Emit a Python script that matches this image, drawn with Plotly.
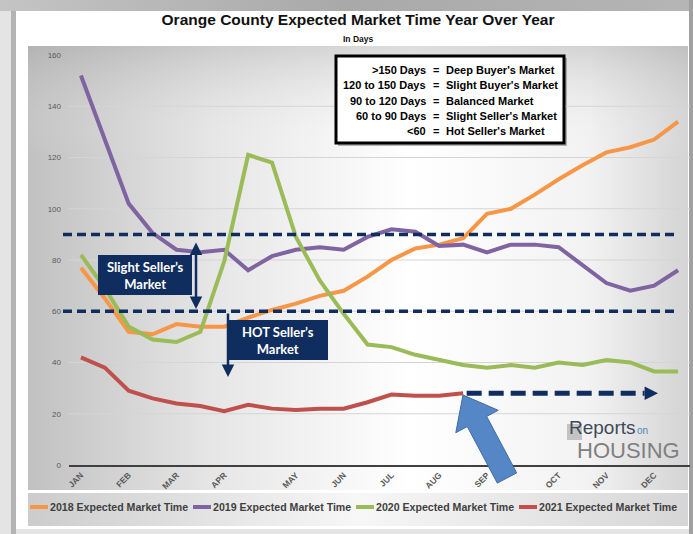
import base64
import plotly.graph_objects as go

# ---------------- data ----------------
months = ["JAN", "FEB", "MAR", "APR", "MAY", "JUN", "JUL", "AUG", "SEP", "OCT", "NOV", "DEC"]
month_pos = [0, 2, 4, 6, 9, 11, 13, 15, 17, 20, 22, 24]
periods = list(range(26))

y2018 = [77, 65, 52, 51, 55, 54, 54, 57.5, 60.5, 63, 66, 68, 73.5, 80, 84.5, 86, 88.5,
         98, 100, 105.5, 111.5, 117, 122, 124, 127, 134]
y2019 = [152, 127, 102, 90.5, 84, 83, 84, 76, 81.5, 84, 85, 84, 89, 92, 91, 85.5, 86,
         83, 86, 86, 85, 78, 71, 68, 70, 76]
y2020 = [82, 69, 54, 49, 48, 52, 79.5, 121, 118, 89, 72, 59, 47, 46, 43, 41, 39,
         38, 39, 38, 40, 39, 41, 40, 36.5, 36.5]
y2021 = [42, 38, 29, 26, 24, 23, 21, 23.5, 22, 21.5, 22, 22, 24.5, 27.5, 27, 27, 28]

series_names = ["2018 Expected Market Time", "2019 Expected Market Time",
                "2020 Expected Market Time", "2021 Expected Market Time"]
series_values = [y2018, y2019, y2020, y2021]
series_colors = ["#F79646", "#8064A2", "#9BBB59", "#C0504D"]

thresholds = [90, 60]
y_ticks = [0, 20, 40, 60, 80, 100, 120, 140, 160]

legend_rows_left = [">150 Days", "120 to 150 Days", "90 to 120 Days", "60 to 90 Days", "<60"]
legend_rows_right = ["Deep Buyer's Market", "Slight Buyer's Market", "Balanced Market",
                     "Slight Seller's Market", "Hot Seller's Market"]

# ---------------- geometry helpers ----------------
W, H = 693, 534
ML, MR, MT, MB = 69, 3, 55, 69
PW, PH = W - ML - MR, H - MT - MB


def PX(x):
    return (x - ML) / PW


def PY(y):
    return (H - MB - y) / PH


NAVY = "#0F2D5E"
ARIAL = "Liberation Sans, Arial, sans-serif"

# ---------------- background (svg image) ----------------
svg = f"""<svg xmlns="http://www.w3.org/2000/svg" width="{W}" height="{H}" viewBox="0 0 {W} {H}">
<defs>
<linearGradient id="pg" x1="0" y1="0" x2="1" y2="0">
<stop offset="0" stop-color="#c1c1c1"/>
<stop offset="0.28" stop-color="#e6e6e6"/>
<stop offset="0.58" stop-color="#ffffff"/>
<stop offset="0.85" stop-color="#f2f2f2"/>
<stop offset="1" stop-color="#d4d4d4"/>
</linearGradient>
<linearGradient id="pv" x1="0" y1="0" x2="0" y2="1">
<stop offset="0" stop-color="#9a9a9a" stop-opacity="0.35"/>
<stop offset="0.25" stop-color="#ffffff" stop-opacity="0"/>
<stop offset="1" stop-color="#ffffff" stop-opacity="0"/>
</linearGradient>
<linearGradient id="lg" x1="0" y1="0" x2="1" y2="0">
<stop offset="0" stop-color="#cccccc"/>
<stop offset="0.5" stop-color="#f7f7f7"/>
<stop offset="1" stop-color="#d6d6d6"/>
</linearGradient>
<linearGradient id="tb" x1="0" y1="0" x2="1" y2="0">
<stop offset="0" stop-color="#c4c4c4"/>
<stop offset="0.5" stop-color="#a9a9a9"/>
<stop offset="1" stop-color="#b5b5b5"/>
</linearGradient>
</defs>
<rect x="0" y="0" width="{W}" height="{H}" fill="#e4e4e4"/>
<rect x="0" y="0" width="{W}" height="11" fill="url(#tb)"/>
<rect x="11" y="11" width="5" height="{H-11}" fill="#b3b3b3"/>
<rect x="689" y="0" width="4" height="{H}" fill="#a0a0a0"/>
<rect x="16" y="11" width="673" height="518" fill="#ffffff"/>
<rect x="28" y="46" width="660" height="444" fill="url(#pg)"/>
<rect x="28" y="46" width="660" height="444" fill="url(#pv)"/>
<rect x="28" y="493" width="660" height="33" fill="url(#lg)"/>
<rect x="338" y="58" width="229" height="88" fill="#7a7a7a" opacity="0.55"/>
<rect x="567" y="424" width="15" height="16" fill="#c3c3c3"/>
</svg>"""
svg_uri = "data:image/svg+xml;base64," + base64.b64encode(svg.encode()).decode()

fig = go.Figure()

for name, vals, col in zip(series_names, series_values, series_colors):
    fig.add_trace(go.Scatter(
        x=periods[:len(vals)], y=vals, mode="lines", name=name,
        line=dict(color=col, width=4), showlegend=False, hoverinfo="skip"))

shapes = []
# gridlines
for v in y_ticks[1:-1]:
    shapes.append(dict(type="line", xref="paper", yref="y", x0=0, x1=1, y0=v, y1=v,
                       line=dict(color="#D5D5D5", width=1), layer="below"))
# threshold dashed lines
for v in thresholds:
    shapes.append(dict(type="line", xref="paper", yref="y", x0=PX(63), x1=PX(679), y0=v, y1=v,
                       line=dict(color=NAVY, width=3.5, dash="9px,5px"), layer="above"))

# dashed arrow continuing the 2021 line
ay_val = y2021[-1]
x_start = len(y2021) - 1 + 0.15
x_head = 23.6
shapes.append(dict(type="line", xref="x", yref="y", x0=x_start, x1=x_head, y0=ay_val, y1=ay_val,
                   line=dict(color=NAVY, width=5, dash="15px,7px"), layer="above"))
shapes.append(dict(type="path", xref="x", yref="y",
                   path=f"M {x_head},{ay_val+2.6} L {x_head+0.56},{ay_val} L {x_head},{ay_val-2.6} Z",
                   fillcolor=NAVY, line=dict(width=0), layer="above"))

# navy boxes
for (x0, y0, x1, y1) in [(98, 255, 192, 295), (228, 320, 328, 360)]:
    shapes.append(dict(type="rect", xref="paper", yref="paper", x0=PX(x0), x1=PX(x1),
                       y0=PY(y1), y1=PY(y0), fillcolor=NAVY, line=dict(width=0), layer="above"))

# legend table box
shapes.append(dict(type="rect", xref="paper", yref="paper", x0=PX(336), x1=PX(564),
                   y0=PY(143), y1=PY(56), fillcolor="white",
                   line=dict(color="black", width=3), layer="above"))

# big blue arrow
pts = [(463, 395), (498.2, 410.3), (486.7, 416.4), (516.7, 472.9), (497.3, 483.1),
       (467.3, 426.6), (455.8, 432.7)]
path = "M " + " L ".join(f"{PX(a):.5f},{PY(b):.5f}" for a, b in pts) + " Z"
shapes.append(dict(type="path", xref="paper", yref="paper", path=path,
                   fillcolor="#5587C6", line=dict(color="#3F6CA0", width=1), layer="above"))

# legend swatches
leg_x = [30, 193, 356, 519]
for sx, col in zip(leg_x, series_colors):
    shapes.append(dict(type="line", xref="paper", yref="paper", x0=PX(sx), x1=PX(sx + 18),
                       y0=PY(507), y1=PY(507), line=dict(color=col, width=4)))


def note(text, x, y, size, color="black", xanchor="center", weight="normal", family=ARIAL):
    return dict(text=text, xref="paper", yref="paper", x=PX(x), y=PY(y),
                xanchor=xanchor, yanchor="middle", showarrow=False,
                font=dict(family=family, size=size, color=color, weight=weight))


annotations = []
annotations.append(note("In Days", 358, 39, 8.5, "#111111", weight="bold"))
# legend table text
row_y = [70, 85.5, 100.8, 116, 131.2]
for ly, lt, rt in zip(row_y, legend_rows_left, legend_rows_right):
    annotations.append(note(lt, 428, ly, 11, xanchor="right", weight="bold"))
    annotations.append(note("=", 435.5, ly, 11, weight="bold"))
    annotations.append(note(rt, 444, ly, 11, xanchor="left", weight="bold"))
# box texts
LATO = "Lato, Open Sans, sans-serif"
annotations.append(note("Slight Seller’s<br>Market", 145, 275, 13, "white", weight="bold", family=LATO))
annotations.append(note("HOT Seller’s<br>Market", 278, 340, 13, "white", weight="bold", family=LATO))
# vertical arrows
annotations.append(dict(text="", xref="paper", yref="paper", x=PX(196), y=PY(309),
                        ax=0, ay=-68, showarrow=True, arrowside="end+start",
                        arrowhead=2, startarrowhead=2, arrowwidth=2.5, arrowsize=1,
                        startarrowsize=1, arrowcolor=NAVY, standoff=0, startstandoff=0))
annotations.append(dict(text="", xref="paper", yref="paper", x=PX(228), y=PY(377),
                        ax=0, ay=-65, showarrow=True, arrowhead=2, arrowwidth=2.5,
                        arrowsize=1, arrowcolor=NAVY, standoff=0))
# logo
annotations.append(note("Reports", 567, 427, 19, "#3E4A5A", xanchor="left"))
annotations.append(note("on", 635, 430, 10, "#4F86C0", xanchor="left"))
annotations.append(note("HOUSING", 682, 450, 22, "#808080", xanchor="right"))
# manual legend text
for sx, name in zip(leg_x, series_names):
    annotations.append(note(name, sx + 18, 507, 10.6, "#3F3F3F", xanchor="left", weight="bold"))

fig.update_layout(
    width=W, height=H,
    margin=dict(l=ML, r=MR, t=MT, b=MB, pad=0),
    paper_bgcolor="#e4e4e4",
    plot_bgcolor="rgba(0,0,0,0)",
    title=dict(text="<b>Orange County Expected Market Time Year Over Year</b>",
               x=358 / W, y=1 - 20 / H, xref="container", yref="container",
               xanchor="center", yanchor="middle",
               font=dict(family=ARIAL, size=15.5, color="#111111")),
    xaxis=dict(range=[-0.5, 25.5], tickvals=month_pos, ticktext=months, tickangle=-45,
               showgrid=False, zeroline=False, showline=True, linecolor="#404040", linewidth=2,
               ticks="", tickfont=dict(family=ARIAL, size=8.5, color="#595959", weight="bold"),
               fixedrange=True),
    yaxis=dict(range=[0, 160], tickvals=y_ticks, showgrid=False, zeroline=False,
               showline=False, ticks="", ticklabelstandoff=7,
               tickfont=dict(family=ARIAL, size=8, color="#595959"), fixedrange=True),
    shapes=shapes,
    annotations=annotations,
    images=[dict(source=svg_uri, xref="paper", yref="paper", x=PX(0), y=PY(0),
                 sizex=W / PW, sizey=H / PH, xanchor="left", yanchor="top",
                 sizing="stretch", layer="below")],
    showlegend=False,
)

fig.write_html("out.html", config={"displayModeBar": False},
               post_script="document.body.style.margin='0px';document.body.style.overflow='hidden';")
